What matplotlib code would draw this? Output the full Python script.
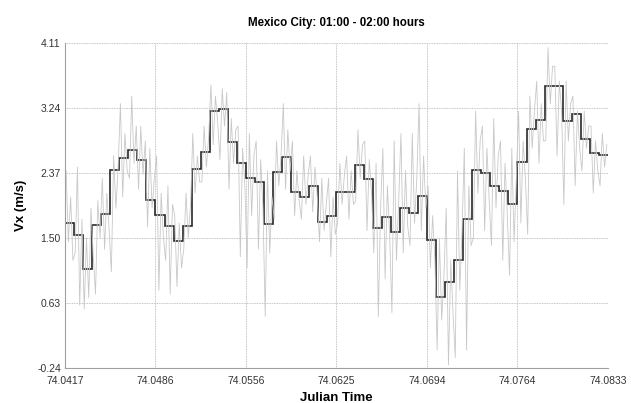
import numpy as np
import matplotlib
matplotlib.use("Agg")
from matplotlib import pyplot as plt

plt.rcParams['font.family'] = ['Liberation Sans', 'DejaVu Sans']

# one-minute averages of Vx (m/s), 01:00 - 02:00
minute_means = [1.70, 1.535, 1.08, 1.68, 1.825, 2.405, 2.57, 2.68, 2.54, 2.01,
                1.81, 1.66, 1.455, 1.66, 2.42, 2.655, 3.195, 3.23, 2.79, 2.51,
                2.31, 2.245, 1.69, 2.385, 2.585, 2.11, 2.05, 2.19, 1.72, 1.80,
                2.11, 2.12, 2.48, 2.285, 1.64, 1.78, 1.575, 1.905, 1.84, 2.06,
                1.47, 0.71, 0.915, 1.21, 1.76, 2.41, 2.37, 2.195, 2.13, 1.96,
                2.52, 2.965, 3.08, 3.53, 3.535, 3.07, 3.155, 2.83, 2.64, 2.617]

# raw samples (4 per minute)
raw_vx = [2.40, 1.45, 2.05, 1.20,  1.30, 2.45, 0.60, 1.75,  0.55, 1.50, 0.70, 1.90,
          1.25, 0.75, 2.00, 1.50,  2.30, 1.35, 2.10, 1.60,  1.05, 2.60, 1.90, 2.45,
          3.30, 2.05, 2.90, 2.40,  2.30, 3.40, 2.50, 3.00,  2.15, 3.00, 2.35, 2.80,
          1.65, 2.70, 1.90, 2.30,  2.60, 0.80, 2.10, 1.50,  1.20, 2.20, 0.75, 1.95,
          1.80, 0.85, 1.70, 1.10,  1.35, 2.10, 1.50, 1.95,  2.90, 2.10, 2.60, 2.25,
          2.25, 3.00, 2.45, 2.85,  3.55, 2.75, 3.40, 3.05,  2.55, 3.50, 3.00, 3.45,
          2.15, 3.10, 2.50, 2.95,  3.00, 1.25, 2.70, 2.20,  1.10, 2.90, 1.80, 2.60,
          2.80, 1.35, 2.55, 1.90,  0.45, 2.40, 1.30, 2.05,  1.75, 2.80, 2.20, 2.60,
          3.30, 2.15, 2.95, 2.40,  2.80, 1.80, 2.40, 2.00,  1.75, 2.60, 1.95, 2.35,
          2.60, 1.85, 2.45, 2.05,  1.45, 2.30, 1.60, 1.95,  2.30, 1.25, 2.05, 1.55,
          1.70, 2.50, 1.95, 2.35,  2.60, 1.75, 2.40, 1.95,  2.00, 2.95, 2.30, 2.75,
          2.80, 1.60, 2.55, 2.10,  1.30, 2.50, 0.45, 1.90,  2.70, 0.95, 2.20, 1.55,
          0.50, 2.80, 1.20, 2.00,  2.90, 1.30, 2.40, 1.65,  1.40, 2.90, 1.70, 2.30,
          3.30, 1.60, 2.60, 1.90,  2.20, 1.10, 1.80, 1.20,  0.00, 1.50, 0.40, 1.00,
          1.90, -0.20, 1.20, 0.50, -0.10, 2.40, 0.80, 1.60,  2.70, 0.00, 2.20, 1.40,
          1.50, 3.20, 2.10, 2.80,  3.00, 1.60, 2.70, 2.00,  1.40, 3.10, 1.90, 2.60,
          2.80, 1.20, 2.50, 1.80,  1.00, 2.70, 1.45, 2.30,  3.20, 1.70, 2.80, 2.30,
          1.55, 3.40, 2.70, 3.20,  3.60, 2.50, 3.30, 2.80,  2.80, 4.05, 3.30, 3.80,
          3.80, 2.60, 3.60, 3.20,  1.95, 3.60, 2.80, 3.30,  3.40, 2.20, 3.20, 2.70,
          2.40, 3.20, 2.70, 3.00,  3.00, 2.10, 2.80, 2.40,  2.20, 2.90, 2.45, 2.75]

yticks = [-0.24, 0.63, 1.50, 2.37, 3.24, 4.11]

t0 = 74.0 + 1.0 / 24          # 01:00 as julian day fraction
edges = t0 + np.arange(len(minute_means) + 1) / 1440.0
t_raw = t0 + (np.arange(len(raw_vx)) + 0.5) / (4 * 1440.0)
xticks = t0 + np.arange(7) / 144.0

fig = plt.figure(figsize=(6.31, 4.03), dpi=100)
ax = fig.add_axes([0.103, 0.087, 0.8605, 0.806])

ax.plot(t_raw, raw_vx, color='#c8c8c8', lw=0.6)
ax.stairs(minute_means, edges, color='#2a2a2a', lw=1.2, baseline=None)

ax.set_xlim(edges[0], edges[-1])
ax.set_ylim(yticks[0], yticks[-1])
ax.set_xticks(xticks)
ax.set_xticklabels(['%.4f' % v for v in xticks])
ax.set_yticks(yticks)
ax.set_yticklabels(['%.2f' % v for v in yticks])
ax.tick_params(length=0, labelsize=7.5, colors='#333333')
ax.tick_params(axis='x', pad=6)
ax.tick_params(axis='y', pad=3)

ax.grid(True, color='#b0b0b0', ls=(0, (1, 1)), lw=0.6)
ax.set_axisbelow(True)
for s in ['top', 'right']:
    ax.spines[s].set_visible(False)
for s in ['left', 'bottom']:
    ax.spines[s].set_color('#a0a0a0')
    ax.spines[s].set_linewidth(0.8)

ax.set_title('Mexico City: 01:00 - 02:00 hours', fontsize=8.3, fontweight='bold', pad=12)
ax.set_xlabel('Julian Time', fontsize=9.5, fontweight='bold', labelpad=4)
ax.set_ylabel('Vx (m/s)', fontsize=9.5, fontweight='bold', labelpad=7)

fig.savefig('out.png', dpi=100)
